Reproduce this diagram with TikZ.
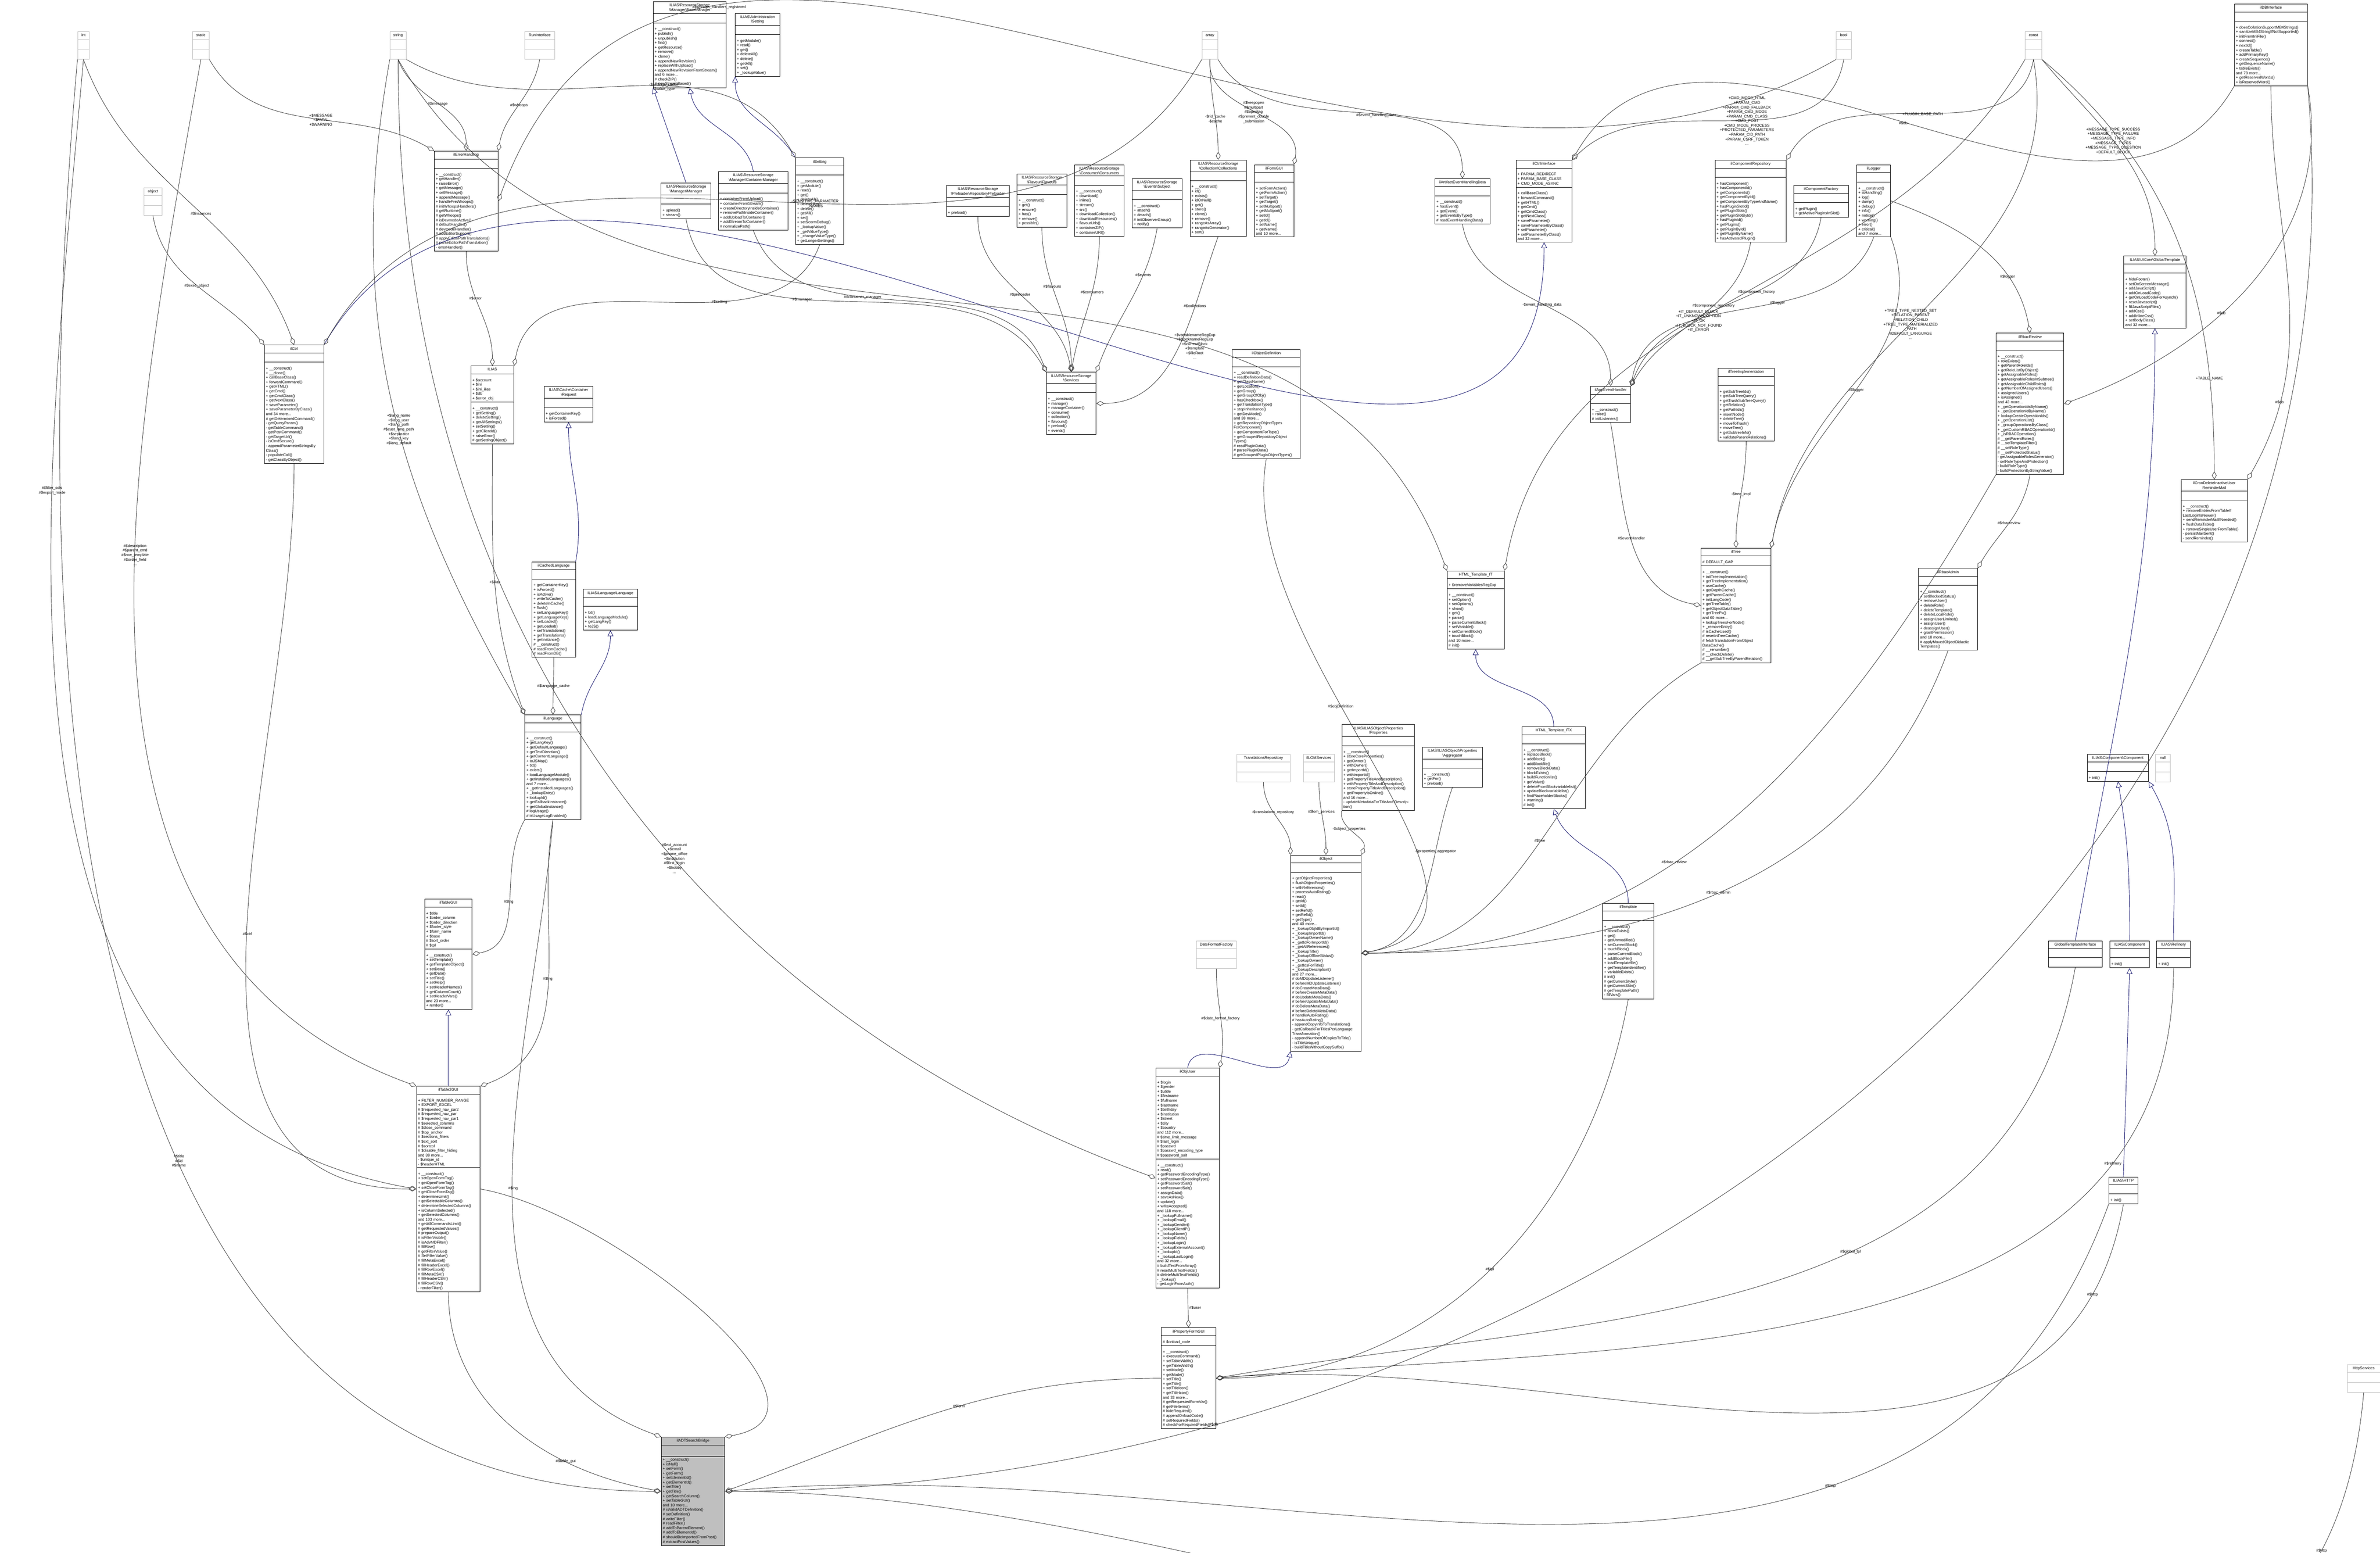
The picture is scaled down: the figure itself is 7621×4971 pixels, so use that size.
\documentclass[tikz,border=0pt]{standalone}
\usepackage{fontspec}
\setmainfont{Liberation Sans}
\usetikzlibrary{shapes.multipart,arrows.meta}
\definecolor{bleunuit}{RGB}{25,25,112}
\newcommand\bs{\textbackslash{}}
% boite de classe : nom, x, y, largeur, titre, attributs, methodes
\newcommand\classe[7]{%
  \pgfmathsetlengthmacro\largeur{#4*0.003cm-0.8pt}%
  \node[classe,text width=\largeur] (#1) at (#2,#3)
    {\centering\strut #5\par\nodepart{second}\raggedright\rule{0pt}{1.6pt}#6\nodepart{third}\raggedright\rule{0pt}{1.6pt}#7};}
% boite grise sans membres
\newcommand\primitif[5]{%
  \pgfmathsetlengthmacro\largeur{#4*0.003cm-0.8pt}%
  \node[classe,draw=black!25,text width=\largeur] (#1) at (#2,#3)
    {\centering\strut #5\par\nodepart{second}\rule{0pt}{1.8pt}\nodepart{third}\rule{0pt}{1.8pt}};}
\begin{document}
\begin{tikzpicture}[x=0.003cm,y=-0.003cm,font=\fontsize{1.05}{1.25}\selectfont]
% Styles
\tikzstyle{classe}=[rectangle split,rectangle split parts=3,draw=black,line width=0.12pt,anchor=north west,inner sep=0.4pt,fill=white]
\tikzstyle{agg}=[draw=black!75,line width=0.12pt,-{Diamond[open,length=2.2pt,width=1.3pt]}]
\tikzstyle{herit}=[draw=bleunuit,line width=0.12pt,-{Triangle[open,length=1.6pt,width=1.6pt]}]
\tikzstyle{etiq}=[align=center,inner sep=0.3pt,fill=none]
\useasboundingbox (0,0) rectangle (7621,4971);
% Types primitifs
\primitif{int}{248}{100}{37}{int}
\primitif{static}{616}{100}{53}{static}
\primitif{string}{1248}{100}{52}{string}
\primitif{run}{1679}{100}{97}{RunInterface}
\primitif{array}{3848}{100}{51}{array}
\primitif{bool}{5879}{100}{48}{bool}
\primitif{const}{6484}{100}{53}{const}
\primitif{object}{460}{600}{58}{object}
\primitif{dateff}{3830}{3011}{128}{DateFormatFactory}
\primitif{transrepo}{3960}{2414}{170}{TranslationsRepository}
\primitif{lom}{4173}{2414}{99}{ilLOMServices}
\primitif{null}{6902}{2414}{46}{null}
\primitif{httpserv}{7515}{4368}{106}{HttpServices}
% Classes du haut
\classe{errh}{1390}{483}{204}{ilErrorHandling}{}{+ \_\_construct()\\+ getHandler()\\+ raiseError()\\+ getMessage()\\+ setMessage()\\+ appendMessage()\\+ handlePreWhoops()\\\# initWhoopsHandlers()\\\# getRuntime()\\\# getWhoops()\\\# isDevmodeActive()\\\# defaultHandler()\\\# devmodeHandler()\\\# addEditorSupport()\\\# applyEditorPathTranslations()\\\# parseEditorPathTranslation()\\- errorHandler()}
\classe{basemgr}{2091}{5}{234}{ILIAS\bs ResourceStorage\\\bs Manager\bs BaseManager}{}{+ \_\_construct()\\+ publish()\\+ unpublish()\\+ find()\\+ getResource()\\+ remove()\\+ clone()\\+ appendNewRevision()\\+ replaceWithUpload()\\+ appendNewRevisionFromStream()\\and 6 more...\\\# checkZIP()\\\# newStreamBased()}
\classe{admset}{2354}{42}{142}{ILIAS\bs Administration\\\bs Setting}{}{+ getModule()\\+ read()\\+ get()\\+ deleteAll()\\+ delete()\\+ getAll()\\+ set()\\+ \_lookupValue()}
\classe{ilset}{2547}{505}{154}{ilSetting}{}{+ \_\_construct()\\+ getModule()\\+ read()\\+ get()\\+ deleteAll()\\+ deleteLike()\\+ delete()\\+ getAll()\\+ set()\\+ setScormDebug()\\+ \_lookupValue()\\+ \_getValueType()\\+ \_changeValueType()\\+ getLongerSettings()}
\classe{contmgr}{2300}{549}{223}{ILIAS\bs ResourceStorage\\\bs Manager\bs ContainerManager}{}{+ containerFromUpload()\\+ containerFromStream()\\+ createDirectoryInsideContainer()\\+ removePathInsideContainer()\\+ addUploadToContainer()\\+ addStreamToContainer()\\\# normalizePath()}
\classe{mgr}{2116}{585}{160}{ILIAS\bs ResourceStorage\\\bs Manager\bs Manager}{}{+ upload()\\+ stream()}
\classe{preload}{3030}{593}{201}{ILIAS\bs ResourceStorage\\\bs Preloader\bs RepositoryPreloader}{}{+ preload()}
\classe{flav}{3256}{556}{159}{ILIAS\bs ResourceStorage\\\bs Flavour\bs Flavours}{}{+ \_\_construct()\\+ get()\\+ ensure()\\+ has()\\+ remove()\\+ possible()}
\classe{cons}{3440}{527}{159}{ILIAS\bs ResourceStorage\\\bs Consumer\bs Consumers}{}{+ \_\_construct()\\+ download()\\+ inline()\\+ stream()\\+ src()\\+ downloadCollection()\\+ downloadResources()\\+ flavourUrls()\\+ containerZIP()\\+ containerURI()}
\classe{subj}{3625}{571}{159}{ILIAS\bs ResourceStorage\\\bs Events\bs Subject}{}{+ \_\_construct()\\+ attach()\\+ detach()\\\# initObserverGroup()\\+ notify()}
\classe{coll}{3810}{512}{180}{ILIAS\bs ResourceStorage\\\bs Collection\bs Collections}{}{+ \_\_construct()\\+ id()\\+ exists()\\+ idOrNull()\\+ get()\\+ store()\\+ clone()\\+ remove()\\+ rangeAsArray()\\+ rangeAsGenerator()\\+ sort()}
\classe{formgui}{4016}{527}{126}{ilFormGUI}{}{+ setFormAction()\\+ getFormAction()\\+ setTarget()\\+ getTarget()\\+ setMultipart()\\+ getMultipart()\\+ setId()\\+ getId()\\+ setName()\\+ getName()\\and 10 more...}
\classe{artif}{4594}{571}{176}{ilArtifactEventHandlingData}{}{+ \_\_construct()\\+ hasEvent()\\+ getEvent()\\+ getEventsByType()\\\# readEventHandlingData()}
\classe{ctrlif}{4854}{512}{179}{ilCtrlInterface}{+ PARAM\_REDIRECT\\+ PARAM\_BASE\_CLASS\\+ CMD\_MODE\_ASYNC}{+ callBaseClass()\\+ forwardCommand()\\+ getHTML()\\+ getCmd()\\+ getCmdClass()\\+ getNextClass()\\+ saveParameter()\\+ saveParameterByClass()\\+ setParameter()\\+ setParameterByClass()\\and 32 more...}
\classe{comprepo}{5491}{512}{228}{ilComponentRepository}{}{+ hasComponent()\\+ hasComponentId()\\+ getComponents()\\+ getComponentById()\\+ getComponentByTypeAndName()\\+ hasPluginSlotId()\\+ getPluginSlots()\\+ getPluginSlotById()\\+ hasPluginId()\\+ getPlugins()\\+ getPluginById()\\+ getPluginByName()\\+ hasActivatedPlugin()}
\classe{compfact}{5743}{593}{175}{ilComponentFactory}{}{+ getPlugin()\\+ getActivePluginsInSlot()}
\classe{logger}{5945}{527}{108}{ilLogger}{}{+ \_\_construct()\\+ isHandling()\\+ log()\\+ dump()\\+ debug()\\+ info()\\+ notice()\\+ warning()\\+ error()\\+ critical()\\and 7 more...}
\classe{dbif}{7154}{12}{234}{ilDBInterface}{}{+ doesCollationSupportMB4Strings()\\+ sanitizeMB4StringIfNotSupported()\\+ initFromIniFile()\\+ connect()\\+ nextId()\\+ createTable()\\+ addPrimaryKey()\\+ createSequence()\\+ getSequenceName()\\+ tableExists()\\and 78 more...\\+ getReservedWords()\\+ isReservedWord()}
% Classes du milieu
\classe{ctrl}{846}{1104}{190}{ilCtrl}{}{+ \_\_construct()\\+ \_\_clone()\\+ callBaseClass()\\+ forwardCommand()\\+ getHTML()\\+ getCmd()\\+ getCmdClass()\\+ getNextClass()\\+ saveParameter()\\+ saveParameterByClass()\\and 34 more...\\\# getDeterminedCommand()\\- getQueryParam()\\- getTableCommand()\\- getPostCommand()\\- getTargetUrl()\\- isCmdSecure()\\- appendParameterStringsBy Class()\\- populateCall()\\- getClassByObject()}
\classe{ilias}{1507}{1171}{138}{ILIAS}{+ \$account\\+ \$ini\\+ \$ini\_ilias\\+ \$db\\+ \$error\_obj}{+ \_\_construct()\\+ getSetting()\\+ deleteSetting()\\+ getAllSettings()\\+ setSetting()\\+ getClientId()\\+ raiseError()\\\# getSettingObject()}
\classe{request}{1742}{1236}{156}{ILIAS\bs Cache\bs Container\\\bs Request}{}{+ getContainerKey()\\+ isForced()}
\classe{cachelng}{1703}{1798}{139}{ilCachedLanguage}{}{+ getContainerKey()\\+ isForced()\\+ isActive()\\+ writeToCache()\\+ deleteInCache()\\+ flush()\\+ setLanguageKey()\\+ getLanguageKey()\\+ setLoaded()\\+ getLoaded()\\+ setTranslations()\\+ getTranslations()\\+ getInstance()\\\# \_\_construct()\\\# readFromCache()\\\# readFromDB()}
\classe{langif}{1867}{1886}{174}{ILIAS\bs Language\bs Language}{}{+ txt()\\+ loadLanguageModule()\\+ getLangKey()\\+ toJS()}
\classe{services}{3350}{1191}{159}{ILIAS\bs ResourceStorage\\\bs Services}{}{+ \_\_construct()\\+ manage()\\+ manageContainer()\\+ consume()\\+ collection()\\+ flavours()\\+ preload()\\+ events()}
\classe{objdef}{3945}{1118}{218}{ilObjectDefinition}{}{+ \_\_construct()\\+ readDefinitionData()\\+ getClassName()\\+ getLocation()\\+ getGroup()\\+ getGroupOfObj()\\+ hasCheckbox()\\+ getTranslationType()\\+ stopInheritance()\\+ getDevMode()\\and 38 more...\\+ getRepositoryObjectTypes ForComponent()\\+ getComponentForType()\\+ getGroupedRepositoryObject Types()\\\# readPluginData()\\\# parsePluginData()\\\# getGroupedPluginObjectTypes()}
\classe{tplit}{4633}{1827}{183}{HTML\_Template\_IT}{+ \$removeVariablesRegExp}{+ \_\_construct()\\+ setOption()\\+ setOptions()\\+ show()\\+ get()\\+ parse()\\+ parseCurrentBlock()\\+ setVariable()\\+ setCurrentBlock()\\+ touchBlock()\\and 10 more...\\\# init()}
\classe{appev}{5092}{1236}{129}{ilAppEventHandler}{}{+ \_\_construct()\\+ raise()\\\# initListeners()}
\classe{treeimpl}{5501}{1178}{179}{ilTreeImplementation}{}{+ getSubTreeIds()\\+ getSubTreeQuery()\\+ getTrashSubTreeQuery()\\+ getRelation()\\+ getPathIds()\\+ insertNode()\\+ deleteTree()\\+ moveToTrash()\\+ moveTree()\\+ getSubtreeInfo()\\+ validateParentRelations()}
\classe{rbacrev}{6391}{1066}{217}{ilRbacReview}{}{+ \_\_construct()\\+ roleExists()\\+ getParentRoleIds()\\+ getRoleListByObject()\\+ getAssignableRoles()\\+ getAssignableRolesInSubtree()\\+ getAssignableChildRoles()\\+ getNumberOfAssignedUsers()\\+ assignedUsers()\\+ isAssigned()\\and 43 more...\\+ \_getOperationIdsByName()\\+ \_getOperationIdByName()\\+ lookupCreateOperationIds()\\+ \_getOperationList()\\+ \_groupOperationsByClass()\\+ \_getCustomRBACOperationId()\\+ \_isRBACOperation()\\\# \_\_getParentRoles()\\\# \_\_setTemplateFilter()\\\# \_\_setRoleType()\\\# \_\_setProtectedStatus()\\- getAssignableRolesGenerator()\\- setRoleTypeAndProtection()\\- buildRoleType()\\- buildProtectionByStringValue()}
\classe{globtpl}{6800}{819}{199}{ILIAS\bs UICore\bs GlobalTemplate}{}{+ hideFooter()\\+ setOnScreenMessage()\\+ addJavaScript()\\+ addOnLoadCode()\\+ getOnLoadCodeForAsynch()\\+ resetJavascript()\\+ fillJavaScriptFiles()\\+ addCss()\\+ addInlineCss()\\+ setBodyClass()\\and 32 more...}
\classe{cron}{6984}{1535}{211}{ilCronDeleteInactiveUser\\ReminderMail}{}{+ \_\_construct()\\+ removeEntriesFromTableIf LastLoginIsNewer()\\+ sendReminderMailIfNeeded()\\+ flushDataTable()\\+ removeSingleUserFromTable()\\- persistMailSent()\\- sendReminder()}
\classe{tree}{5446}{1754}{224}{ilTree}{\# DEFAULT\_GAP}{+ \_\_construct()\\+ initTreeImplementation()\\+ getTreeImplementation()\\+ useCache()\\+ getDepthCache()\\+ getParentCache()\\+ initLangCode()\\+ getTreeTable()\\+ getObjectDataTable()\\+ getTreePk()\\and 60 more...\\+ lookupTreesForNode()\\+ \_removeEntry()\\\# isCacheUsed()\\\# resetInTreeCache()\\\# fetchTranslationFromObject DataCache()\\\# \_\_renumber()\\\# \_\_checkDelete()\\\# \_\_getSubTreeByParentRelation()}
\classe{rbacadm}{6143}{1819}{188}{ilRbacAdmin}{}{+ \_\_construct()\\+ setBlockedStatus()\\+ removeUser()\\+ deleteRole()\\+ deleteTemplate()\\+ deleteLocalRole()\\+ assignUserLimited()\\+ assignUser()\\+ deassignUser()\\+ grantPermission()\\and 18 more...\\\# applyMovedObjectDidactic Templates()}
% Classes du bas
\classe{lng}{1680}{2288}{180}{ilLanguage}{}{+ \_\_construct()\\+ getLangKey()\\+ getDefaultLanguage()\\+ getTextDirection()\\+ getContentLanguage()\\+ toJSMap()\\+ txt()\\+ exists()\\+ loadLanguageModule()\\+ getInstalledLanguages()\\and 7 more...\\+ \_getInstalledLanguages()\\+ \_lookupEntry()\\+ lookupId()\\+ getFallbackInstance()\\+ getGlobalInstance()\\\# logUsage()\\\# isUsageLogEnabled()}
\classe{tablegui}{1359}{2878}{152}{ilTableGUI}{+ \$title\\+ \$order\_column\\+ \$order\_direction\\+ \$footer\_style\\+ \$form\_name\\+ \$base\\\# \$sort\_order\\\# \$tpl}{+ \_\_construct()\\+ setTemplate()\\+ getTemplateObject()\\+ setData()\\+ getData()\\+ setTitle()\\+ setHelp()\\+ setHeaderNames()\\+ getColumnCount()\\+ setHeaderVars()\\and 23 more...\\+ render()}
\classe{table2}{1333}{3477}{204}{ilTable2GUI}{+ FILTER\_NUMBER\_RANGE\\+ EXPORT\_EXCEL\\\# \$requested\_nav\_par2\\\# \$requested\_nav\_par\\\# \$requested\_nav\_par1\\\# \$selected\_columns\\\# \$close\_command\\\# \$top\_anchor\\\# \$sections\_filters\\\# \$ext\_sort\\\# \$sortcol\\\# \$disable\_filter\_hiding\\and 38 more...\\- \$unique\_id\\- \$headerHTML}{+ \_\_construct()\\+ setOpenFormTag()\\+ getOpenFormTag()\\+ setCloseFormTag()\\+ getCloseFormTag()\\+ determineLimit()\\+ getSelectableColumns()\\+ determineSelectedColumns()\\+ isColumnSelected()\\+ getSelectedColumns()\\and 103 more...\\+ getAllCommandsLimit()\\\# getRequestedValues()\\\# prepareOutput()\\\# isFilterVisible()\\\# isAdvMDFilter()\\\# fillRow()\\\# getFilterValue()\\\# SetFilterValue()\\\# fillMetaExcel()\\\# fillHeaderExcel()\\\# fillRowExcel()\\\# fillMetaCSV()\\\# fillHeaderCSV()\\\# fillRowCSV()\\- renderFilter()}
\classe{objuser}{3700}{3419}{204}{ilObjUser}{+ \$login\\+ \$gender\\+ \$utitle\\+ \$firstname\\+ \$fullname\\+ \$lastname\\+ \$birthday\\+ \$institution\\+ \$street\\+ \$city\\+ \$country\\and 112 more...\\\# \$time\_limit\_message\\\# \$last\_login\\\# \$passwd\\\# \$passwd\_encoding\_type\\\# \$password\_salt}{+ \_\_construct()\\+ read()\\+ getPasswordEncodingType()\\+ setPasswordEncodingType()\\+ getPasswordSalt()\\+ setPasswordSalt()\\+ assignData()\\+ saveAsNew()\\+ update()\\+ writeAccepted()\\and 118 more...\\+ \_lookupFullname()\\+ \_lookupEmail()\\+ \_lookupGender()\\+ \_lookupClientIP()\\+ \_lookupName()\\+ \_lookupFields()\\+ \_lookupLogin()\\+ \_lookupExternalAccount()\\+ \_lookupId()\\+ \_lookupLastLogin()\\and 32 more...\\\# buildTextFromArray()\\\# resetMultiTextFields()\\\# deleteMultiTextFields()\\- \_lookup()\\- getLoginFromAuth()}
\classe{propform}{3718}{4250}{174}{ilPropertyFormGUI}{\# \$onload\_code}{+ \_\_construct()\\+ executeCommand()\\+ setTableWidth()\\+ getTableWidth()\\+ setMode()\\+ getMode()\\+ setTitle()\\+ getTitle()\\+ setTitleIcon()\\+ getTitleIcon()\\and 33 more...\\\# getRequestedFormVar()\\\# getFileItems()\\\# hideRequired()\\\# appendOnloadCode()\\\# setRequiredFields()\\\# checkForRequiredFields()}
\classe{ilobject}{4132}{2737}{226}{ilObject}{}{+ getObjectProperties()\\+ flushObjectProperties()\\+ withReferences()\\+ processAutoRating()\\+ read()\\+ getId()\\+ setId()\\+ setRefId()\\+ getRefId()\\+ getType()\\and 40 more...\\+ \_lookupObjIdByImportId()\\+ \_lookupImportId()\\+ \_lookupOwnerName()\\+ \_getIdForImportId()\\+ \_getAllReferences()\\+ \_lookupTitle()\\+ \_lookupOfflineStatus()\\+ \_lookupOwner()\\+ \_getIdsForTitle()\\+ \_lookupDescription()\\and 27 more...\\\# doMDUpdateListener()\\\# beforeMDUpdateListener()\\\# doCreateMetaData()\\\# beforeCreateMetaData()\\\# doUpdateMetaData()\\\# beforeUpdateMetaData()\\\# doDeleteMetaData()\\\# beforeDeleteMetaData()\\\# handleAutoRating()\\\# hasAutoRating()\\- appendCopyInfoToTranslations()\\- getCallbackForTitlesPerLanguage Transformation()\\- appendNumberOfCopiesToTitle()\\- isTitleUnique()\\- buildTitleWithoutCopySuffix()}
\classe{props}{4296}{2319}{233}{ILIAS\bs ILIASObject\bs Properties\\\bs Properties}{}{+ \_\_construct()\\+ storeCoreProperties()\\+ getOwner()\\+ withOwner()\\+ getImportId()\\+ withImportId()\\+ getPropertyTitleAndDescription()\\+ withPropertyTitleAndDescription()\\+ storePropertyTitleAndDescription()\\+ getPropertyIsOnline()\\and 16 more...\\- updateMetadataForTitleAnd Description()}
\classe{aggreg}{4554}{2391}{192}{ILIAS\bs ILIASObject\bs Properties\\\bs Aggregator}{}{+ \_\_construct()\\+ getFor()\\+ preload()}
\classe{tplitx}{4873}{2326}{203}{HTML\_Template\_ITX}{}{+ \_\_construct()\\+ replaceBlock()\\+ addBlock()\\+ addBlockfile()\\+ removeBlockData()\\+ blockExists()\\+ buildFunctionlist()\\+ getValue()\\+ deleteFromBlockvariablelist()\\+ updateBlockvariablelist()\\+ findPlaceholderBlocks()\\+ warning()\\\# init()}
\classe{iltpl}{5131}{2891}{164}{ilTemplate}{}{+ \_\_construct()\\+ blockExists()\\+ get()\\+ getUnmodified()\\+ setCurrentBlock()\\+ touchBlock()\\+ parseCurrentBlock()\\+ addBlockFile()\\+ loadTemplatefile()\\+ getTemplateIdentifier()\\+ variableExists()\\\# init()\\\# getCurrentStyle()\\\# getCurrentSkin()\\\# getTemplatePath()\\- fillVars()}
\classe{component}{6683}{2414}{196}{ILIAS\bs Component\bs Component}{}{+ init()}
\classe{gtplif}{6558}{3011}{173}{GlobalTemplateInterface}{}{}
\classe{compo}{6755}{3011}{127}{ILIAS\bs Component}{}{+ init()}
\classe{refin}{6905}{3011}{108}{ILIAS\bs Refinery}{}{+ init()}
\classe{http}{6752}{3767}{93}{ILIAS\bs HTTP}{}{+ init()}
\pgfmathsetlengthmacro\largeur{203*0.003cm-0.8pt}
\node[classe,fill=black!25,text width=\largeur] (adt) at (2117,4600) {\centering\strut ilADTSearchBridge\par\nodepart{second}\rule{0pt}{2.2pt}\nodepart{third}\raggedright + \_\_construct()\\+ isNull()\\+ setForm()\\+ getForm()\\+ setElementId()\\+ getElementId()\\+ setTitle()\\+ getTitle()\\+ getSearchColumn()\\+ setTableGUI()\\and 10 more...\\\# isValidADTDefinition()\\\# setDefinition()\\\# writeFilter()\\\# readFilter()\\\# addToParentElement()\\\# addToElementId()\\\# shouldBeImportedFromPost()\\\# extractPostValues()};
% Heritage
\draw[herit] (mgr.north) -- (basemgr.south west);
\draw[herit] (contmgr.north) to[out=100,in=-80] (basemgr.south);
\draw[herit] (ilset.north west) to[out=120,in=-90] (admset.south west);
\draw[herit] (cachelng.north east) to[out=80,in=-90] (request.south);
\draw[herit] (lng.north east) to[out=80,in=-90] (langif.south);
\draw[herit] (table2.north) -- (tablegui.south);
\draw[herit] (ctrl.north east) to[out=60,in=-90] (ctrlif.south);
\draw[herit] (tplitx.north) to[out=90,in=-90] (tplit.south);
\draw[herit] (iltpl.north) to[out=90,in=-70] (tplitx.south);
\draw[herit] (objuser.north) to[out=80,in=-100] (ilobject.south west);
\draw[herit] (compo.north) to[out=90,in=-80] (component.south);
\draw[herit] (refin.north) to[out=90,in=-60] (component.south east);
\draw[herit] (http.north) -- (compo.south);
\draw[herit] (gtplif.north) to[out=80,in=-90] (globtpl.south);
% Agregations du haut
\draw[agg] (static.south east) to[out=-60,in=150] node[etiq,pos=0.55]{+\$MESSAGE\\+\$FATAL\\+\$WARNING} (errh.north west);
\draw[agg] (string.south) to[out=-70,in=90] node[etiq,pos=0.5]{\#\$message} (errh.north);
\draw[agg] (run.south) to[out=-100,in=80] node[etiq,pos=0.5]{\#\$whoops} (errh.north east);
\draw[agg] (bool.south west) to[out=-150,in=70] node[etiq,pos=0.75]{\#\$whoops\_handlers\_registered} (errh.east);
\draw[agg] (string.south east) to[out=-30,in=120] node[etiq,pos=0.6]{-\$settings\_cache\\-\$value\_type} (ilset.north west);
\draw[agg] (errh.south) to[out=-90,in=90] node[etiq,pos=0.4]{\#\$error} (ilias.north);
\draw[agg] (ilset.south) to[out=-110,in=80] node[etiq,pos=0.35]{\#\$setting} (ilias.north east);
\draw[agg] (mgr.south) to[out=-80,in=120] node[etiq,pos=0.4]{\#\$manager} (services.north west);
\draw[agg] (contmgr.south) to[out=-70,in=110] node[etiq,pos=0.4]{\#\$container\_manager} (services.north west);
\draw[agg] (preload.south) to[out=-90,in=100] node[etiq,pos=0.5]{\#\$preloader} (services.north);
\draw[agg] (flav.south) to[out=-90,in=90] node[etiq,pos=0.4]{\#\$flavours} (services.north);
\draw[agg] (cons.south) to[out=-90,in=80] node[etiq,pos=0.4]{\#\$consumers} (services.north);
\draw[agg] (subj.south) to[out=-100,in=70] node[etiq,pos=0.3]{\#\$events} (services.north east);
\draw[agg] (coll.south) to[out=-110,in=0] node[etiq,pos=0.3]{\#\$collections} (services.east);
\draw[agg] (array.south) to[out=-90,in=90] node[etiq,pos=0.6]{-\$rid\_cache\\-\$cache} (coll.north);
\draw[agg] (array.south east) to[out=-60,in=90] node[etiq,pos=0.55]{\#\$event\_handling\_data} (artif.north);
\draw[agg] (array.south west) to[out=-120,in=60] node[etiq,pos=0.45]{-SENSITIVE\_PARAMETER\\\_NAMES} (ctrl.north east);
\draw[agg] (array.south) to[out=-95,in=80] node[etiq,pos=0.5]{\#\$keepopen\\\#\$multipart\\\#\$opentag\\\#\$prevent\_double\\\_submission} (formgui.north east);
\draw[agg] (bool.south) to[out=-100,in=45] node[etiq,pos=0.45]{+CMD\_MODE\_HTML\\+PARAM\_CMD\\+PARAM\_CMD\_FALLBACK\\+PARAM\_CMD\_MODE\\+PARAM\_CMD\_CLASS\\+CMD\_POST\\+CMD\_MODE\_PROCESS\\+PROTECTED\_PARAMETERS\\+PARAM\_CID\_PATH\\+PARAM\_CSRF\_TOKEN\\...} (ctrlif.north east);
\draw[agg] (const.south) to[out=-100,in=60] node[etiq,pos=0.5]{+PLUGIN\_BASE\_PATH} (comprepo.north east);
\draw[agg] (const.south east) to[out=-50,in=90] node[etiq,pos=0.45]{+MESSAGE\_TYPE\_SUCCESS\\+MESSAGE\_TYPE\_FAILURE\\+MESSAGE\_TYPE\_INFO\\+MESSAGE\_TYPES\\+MESSAGE\_TYPE\_QUESTION\\+DEFAULT\_BLOCK} (globtpl.north);
\draw[agg] (dbif.south west) to[out=-120,in=60] node[etiq,pos=0.5]{\#\$db} (ctrlif.north east);
\draw[agg] (object.south) to[out=-80,in=130] node[etiq,pos=0.5]{\#\$exec\_object} (ctrl.north west);
\draw[agg] (int.south) to[out=-70,in=110] node[etiq,pos=0.55]{\#\$instances} (ctrl.north);
% Agregations du milieu
\draw[agg] (comprepo.south) to[out=-100,in=60] node[etiq,pos=0.4]{\#\$component\_repository} (appev.north east);
\draw[agg] (compfact.south) to[out=-100,in=70] node[etiq,pos=0.4]{\#\$component\_factory} (appev.north east);
\draw[agg] (logger.south) to[out=-110,in=80] node[etiq,pos=0.4]{\#\$logger} (appev.north east);
\draw[agg] (artif.south) to[out=-80,in=90] node[etiq,pos=0.5]{-\$event\_handling\_data} (appev.north);
\draw[agg] (appev.south) to[out=-80,in=170] node[etiq,pos=0.5]{\#\$eventHandler} (tree.west);
\draw[agg] (treeimpl.south) to[out=-90,in=90] node[etiq,pos=0.5]{-\$tree\_impl} (tree.north);
\draw[agg] (logger.south east) to[out=-70,in=80] node[etiq,pos=0.5]{\#\$logger} (tree.north east);
\draw[agg] (logger.east) to[out=-20,in=100] node[etiq,pos=0.7]{\#\$logger} (rbacrev.north);
\draw[agg] (rbacrev.south) to[out=-100,in=60] node[etiq,pos=0.5]{\#\$rbacreview} (rbacadm.north east);
\draw[agg] (dbif.south) to[out=-90,in=60] node[etiq,pos=0.8]{\#\$db} (cron.north east);
\draw[agg] (dbif.south east) to[out=-80,in=20] node[etiq,pos=0.6]{\#\$db} (rbacrev.east);
\draw[agg] (const.south east) to[out=-40,in=90] node[etiq,pos=0.8]{+TABLE\_NAME} (cron.north);
\draw[agg] (const.south) to[out=-80,in=80] node[etiq,pos=0.55]{+TREE\_TYPE\_NESTED\_SET\\+RELATION\_PARENT\\+RELATION\_CHILD\\+TREE\_TYPE\_MATERIALIZED\\\_PATH\\\#DEFAULT\_LANGUAGE\\...} (tree.north east);
\draw[agg] (const.south west) to[out=-120,in=80] node[etiq,pos=0.55]{+IT\_DEFAULT\_BLOCK\\+IT\_UNKNOWN\_OPTION\\+IT\_OK\\+IT\_BLOCK\_NOT\_FOUND\\+IT\_ERROR} (tplit.north east);
\draw[agg] (string.south) to[out=-60,in=110] node[etiq,pos=0.7]{+\$variablenameRegExp\\+\$blocknameRegExp\\+\$currentBlock\\+\$template\\+\$fileRoot\\...} (tplit.north west);
\draw[agg] (ilias.south) to[out=-90,in=110] node[etiq,pos=0.5]{+\$ilias} (lng.north west);
\draw[agg] (cachelng.south) to[out=-90,in=90] node[etiq,pos=0.5]{\#\$language\_cache} (lng.north);
\draw[agg] (string.south west) to[out=-100,in=120] node[etiq,pos=0.55]{+\$lang\_name\\+\$lang\_user\\+\$lang\_path\\\#\$cust\_lang\_path\\+\$separator\\+\$lang\_key\\+\$lang\_default} (lng.north west);
% Agregations du bas
\draw[agg] (ctrl.south) to[out=-90,in=180] node[etiq,pos=0.5]{\#\$ctrl} (table2.west);
\draw[agg] (lng.south west) to[out=-120,in=10] node[etiq,pos=0.5]{\#\$lng} (tablegui.east);
\draw[agg] (lng.south) to[out=-100,in=20] node[etiq,pos=0.5]{\#\$lng} (table2.north east);
\draw[agg] (int.south) to[out=-95,in=170] node[etiq,pos=0.3]{\#\$filter\_cols\\\#\$export\_mode} (table2.west);
\draw[agg] (static.south) to[out=-100,in=160] node[etiq,pos=0.4]{\#\$description\\\#\$parent\_cmd\\\#\$row\_template\\\#\$order\_field\\...} (table2.north west);
\draw[agg] (string.south) to[out=-90,in=160] node[etiq,pos=0.6]{\#\$ext\_account\\+\$email\\+\$phone\_office\\+\$institution\\\#\$first\_login\\+\$hobby\\...} (objuser.west);
\draw[agg] (dateff.south) to[out=-90,in=80] node[etiq,pos=0.5]{\#\$date\_format\_factory} (objuser.north east);
\draw[agg] (objuser.south) -- node[etiq,right]{\#\$user} (propform.north);
\draw[agg] (transrepo.south) to[out=-90,in=90] node[etiq,pos=0.4]{-\$translations\_repository} (ilobject.north west);
\draw[agg] (lom.south) to[out=-90,in=90] node[etiq,pos=0.4]{\#\$lom\_services} (ilobject.north);
\draw[agg] (props.south west) to[out=-100,in=70] node[etiq,pos=0.4]{-\$object\_properties} (ilobject.north east);
\draw[agg] (aggreg.south) to[out=-110,in=10] node[etiq,pos=0.3]{-\$properties\_aggregator} (ilobject.east);
\draw[agg] (objdef.south) to[out=-100,in=10] node[etiq,pos=0.4]{\#\$objDefinition} (ilobject.east);
\draw[agg] (tree.south west) to[out=-150,in=0] node[etiq,pos=0.5]{\#\$tree} (ilobject.east);
\draw[agg] (rbacadm.south) to[out=-110,in=0] node[etiq,pos=0.5]{\#\$rbac\_admin} (ilobject.east);
\draw[agg] (rbacrev.south west) to[out=-120,in=0] node[etiq,pos=0.6]{\#\$rbac\_review} (ilobject.east);
\draw[agg] (iltpl.south) to[out=-100,in=0] node[etiq,pos=0.5]{\#\$tpl} (propform.east);
\draw[agg] (gtplif.south) to[out=-100,in=10] node[etiq,pos=0.4]{\#\$global\_tpl} (propform.east);
\draw[agg] (http.south) to[out=-100,in=5] node[etiq,pos=0.1]{\#\$http} (propform.east);
\draw[agg] (refin.south) to[out=-90,in=5] node[etiq,pos=0.2]{\#\$refinery} (propform.east);
% vers ilADTSearchBridge
\draw[agg] (table2.south) to[out=-90,in=170] node[etiq,pos=0.7]{\#\$table\_gui} (adt.west);
\draw[agg] (lng.south) to[out=-95,in=160] node[etiq,pos=0.5]{\#\$lng} (adt.north west);
\draw[agg] (int.south west) to[out=-95,in=180] node[etiq,pos=0.6]{\#\$title\\\#\$id\\\#\$name} (adt.west);
\draw[agg] (propform.west) to[out=180,in=20] node[etiq,pos=0.45]{\#\$form} (adt.east);
\draw[agg] (dbif.south east) to[out=-85,in=0] node[etiq,pos=0.8]{\#\$db} (adt.east);
\draw[agg] (http.south west) to[out=-110,in=5] node[etiq,pos=0.3]{\#\$http} (adt.east);
\draw[agg] (httpserv.south) to[out=-95,in=0] node[etiq,pos=0.1]{\#\$http} (adt.east);
\draw[agg] (table2.east) to[out=-10,in=10] (adt.north east);
\end{tikzpicture}
\end{document}
